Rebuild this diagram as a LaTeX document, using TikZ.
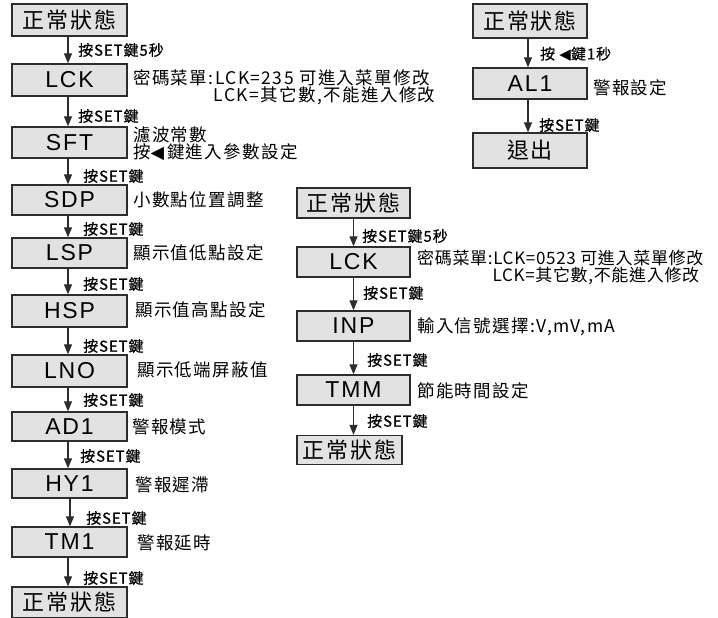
\documentclass[tikz,border=0pt]{standalone}
\usepackage{fontspec}
\usepackage{xcolor}
\usetikzlibrary{arrows.meta,positioning}
\setmainfont{Noto Sans CJK TC}
\newfontfamily\codefont[LetterSpace=8]{Liberation Sans}
\newfontfamily\headfont[LetterSpace=8]{Noto Sans CJK TC}
\newfontfamily\descfont[LetterSpace=8]{Noto Sans CJK TC}
\newfontfamily\descnarrow[LetterSpace=4]{Noto Sans CJK TC}
\newfontfamily\keyfont[LetterSpace=6,FakeBold=0.6]{Noto Sans CJK TC}
\newfontfamily\symfont{DejaVu Sans}
\newcommand{\keytri}{{\symfont\char"25C0}}
\definecolor{boxgray}{RGB}{226,226,226}
\definecolor{boxline}{RGB}{45,45,45}
\tikzset{
 codebox/.style={
 rectangle,
 draw=boxline,
 fill=boxgray,
 line width=1.3pt,
 minimum width=115pt,
 minimum height=31pt,
 inner sep=0pt,
 font=\codefont\fontsize{23}{24}\selectfont
 },
 statebox/.style={
 codebox,
 font=\headfont\fontsize{22}{24}\selectfont
 },
 desc/.style={
 anchor=west,
 inner sep=0pt,
 align=left,
 font=\descfont\fontsize{17.5}{17}\selectfont
 },
 keylabel/.style={
 anchor=west,
 inner sep=0pt,
 font=\keyfont\fontsize{15}{15}\selectfont
 },
 flowarrow/.style={-{Triangle[length=10pt,width=8pt]}, line width=1.2pt, draw=boxline}
}

\begin{document}
\begin{tikzpicture}[x=1pt,y=-1pt]
 \useasboundingbox (0,0) rectangle (718,618);

 % left column: full menu
 \node[statebox, minimum height=32pt] (lstart) at (69.5,20) {正常狀態};
 \node[codebox, minimum height=32pt] (llck) at (69.5,80) {LCK};
 \node[codebox] (lsft) at (69.5,142.5) {SFT};
 \node[codebox, minimum height=30pt] (lsdp) at (69.5,200) {SDP};
 \node[codebox, minimum height=30pt] (llsp) at (69.5,253) {LSP};
 \node[codebox, minimum height=32pt] (lhsp) at (69.5,311) {HSP};
 \node[codebox, minimum height=32pt] (llno) at (69.5,371) {LNO};
 \node[codebox, minimum height=29pt] (lad) at (69.5,426.5) {AD1};
 \node[codebox, minimum height=29pt] (lhy) at (69.5,483.5) {HY1};
 \node[codebox, minimum height=30pt] (ltm) at (69.5,542) {TM1};
 \node[statebox] (lend) at (69.5,602.5) {正常狀態};

 \draw[flowarrow] ([xshift=-1.5pt]lstart.south) -- ([xshift=-1.5pt]lstart.south |- llck.north);
 \draw[flowarrow] ([xshift=-1.5pt]llck.south) -- ([xshift=-1.5pt]llck.south |- lsft.north);
 \draw[flowarrow] ([xshift=-1.5pt]lsft.south) -- ([xshift=-1.5pt]lsft.south |- lsdp.north);
 \draw[flowarrow] ([xshift=-1.5pt]lsdp.south) -- ([xshift=-1.5pt]lsdp.south |- llsp.north);
 \draw[flowarrow] ([xshift=-1.5pt]llsp.south) -- ([xshift=-1.5pt]llsp.south |- lhsp.north);
 \draw[flowarrow] ([xshift=-1.5pt]lhsp.south) -- ([xshift=-1.5pt]lhsp.south |- llno.north);
 \draw[flowarrow] ([xshift=-1.5pt]llno.south) -- ([xshift=-1.5pt]llno.south |- lad.north);
 \draw[flowarrow] ([xshift=-1.5pt]lad.south) -- ([xshift=-1.5pt]lad.south |- lhy.north);
 \draw[flowarrow] ([xshift=0.5pt]lhy.south) -- ([xshift=0.5pt]lhy.south |- ltm.north);
 \draw[flowarrow] ([xshift=-1.5pt]ltm.south) -- ([xshift=-1.5pt]ltm.south |- lend.north);

 \node[keylabel] (lk1) at (78,50) {按SET鍵5秒};
 \node[keylabel] (lk2) at (78,116) {按SET鍵};
 \node[keylabel] (lk3) at (83,176) {按SET鍵};
 \node[keylabel] (lk4) at (83,229) {按SET鍵};
 \node[keylabel] (lk5) at (83,284) {按SET鍵};
 \node[keylabel] (lk6) at (83,346) {按SET鍵};
 \node[keylabel] (lk7) at (83,400) {按SET鍵};
 \node[keylabel] (lk8) at (80,456) {按SET鍵};
 \node[keylabel] (lk9) at (86,518) {按SET鍵};
 \node[keylabel] (lk10) at (83,578) {按SET鍵};

 \node[desc] (llcktxt) at (133,87.5) {密碼菜單:LCK=235 可進入菜單修改\\\phantom{密碼菜單:}LCK=其它數,不能進入修改};
 \node[desc] (lsfttxt) at (133,143.5) {濾波常數\\按\keytri\,鍵進入參數設定};
 \node[desc] (lsdptxt) at (133,200) {小數點位置調整};
 \node[desc] (llsptxt) at (133,253) {顯示值低點設定};
 \node[desc] (lhsptxt) at (135,310) {顯示值高點設定};
 \node[desc] (llnotxt) at (137,370) {顯示低端屏蔽值};
 \node[desc] (ladtxt) at (132,427) {警報模式};
 \node[desc] (lhytxt) at (135,485) {警報遲滯};
 \node[desc] (ltmtxt) at (137,543) {警報延時};

 % middle column: second menu
 \node[statebox, minimum height=30pt, minimum width=113pt] (mstart) at (353.5,203) {正常狀態};
 \node[codebox, minimum height=30pt, minimum width=113pt] (mlck) at (353.5,262) {LCK};
 \node[codebox, minimum height=30pt, minimum width=113pt] (minp) at (353.5,326) {INP};
 \node[codebox, minimum height=30pt, minimum width=113pt] (mtmm) at (353.5,390) {TMM};
 \node[statebox, minimum height=29pt, minimum width=105pt] (mend) at (349.5,450) {正常狀態};

 \draw[flowarrow] (mstart.south) -- (mstart.south |- mlck.north);
 \draw[flowarrow] (mlck.south) -- (mlck.south |- minp.north);
 \draw[flowarrow] (minp.south) -- (minp.south |- mtmm.north);
 \draw[flowarrow] (mtmm.south) -- (mtmm.south |- mend.north);

 \node[keylabel] (mk1) at (362,236) {按SET鍵5秒};
 \node[keylabel] (mk2) at (363,293) {按SET鍵};
 \node[keylabel] (mk3) at (367,360) {按SET鍵};
 \node[keylabel] (mk4) at (367,421) {按SET鍵};

 \node[desc, font=\descnarrow\fontsize{17}{17}\selectfont] (mlcktxt) at (417,267.5) {密碼菜單:LCK=0523 可進入菜單修改\\\phantom{密碼菜單:}LCK=其它數,不能進入修改};
 \node[desc] (minptxt) at (417,327) {輸入信號選擇:V,mV,mA};
 \node[desc] (mtmmtxt) at (417,391) {節能時間設定};

 % right column: alarm
 \node[statebox, minimum height=34pt, minimum width=114pt] (rstart) at (530,21) {正常狀態};
 \node[codebox, minimum height=31pt, minimum width=114pt] (ral) at (530,83.5) {AL1};
 \node[statebox, minimum height=35pt, minimum width=114pt] (rexit) at (530,150.5) {退出};

 \draw[flowarrow] ([xshift=-2pt]rstart.south) -- ([xshift=-2pt]rstart.south |- ral.north);
 \draw[flowarrow] ([xshift=-2pt]ral.south) -- ([xshift=-2pt]ral.south |- rexit.north);

 \node[keylabel] (rk1) at (540,54) {按 \keytri 鍵1秒};
 \node[keylabel] (rk2) at (539,125) {按SET鍵};

 \node[desc] (raltxt) at (593,88) {警報設定};
\end{tikzpicture}
\end{document}
